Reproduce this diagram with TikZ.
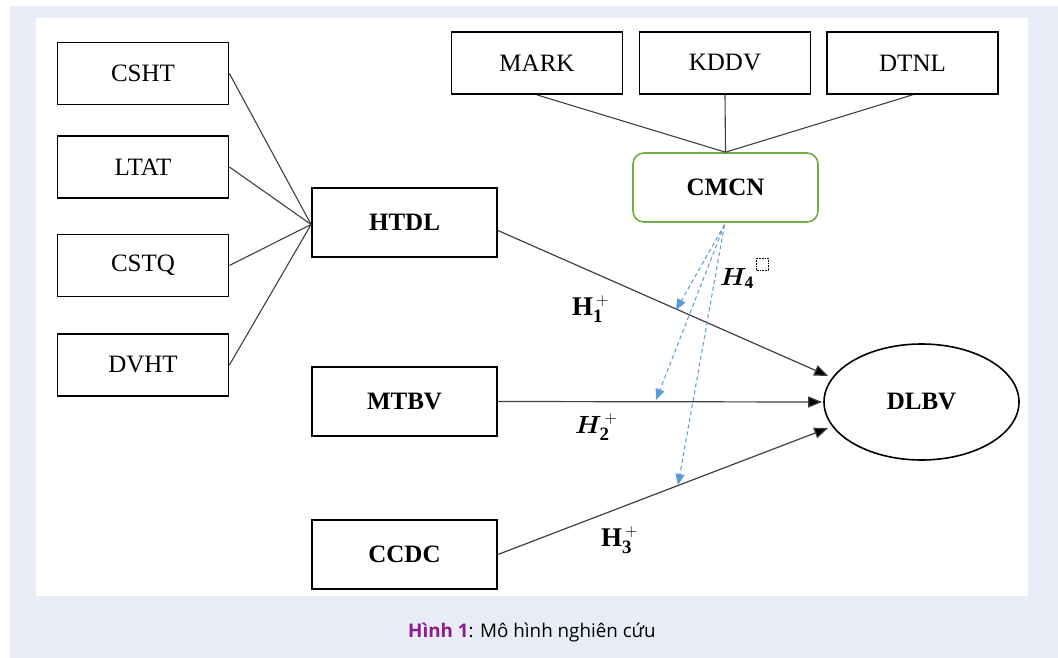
\documentclass[tikz,border=0pt]{standalone}
\usepackage{amsmath}
\usepackage{bm}
\usepackage{fontspec}
\setmainfont{Liberation Serif}
\newfontfamily\capfont{Open Sans}
\usetikzlibrary{arrows.meta,calc,shapes.geometric}
\definecolor{bgblue}{HTML}{E8ECF6}
\definecolor{dashblue}{HTML}{5B9BD5}
\definecolor{cmgreen}{HTML}{70AD47}
\definecolor{capviolet}{HTML}{8E1B8E}
\definecolor{linegray}{HTML}{404040}
\begin{document}
\begin{tikzpicture}[x=1pt,y=-1pt,
  smallbox/.style={draw=black, line width=1.8pt, minimum width=171pt, minimum height=62pt, inner sep=0pt, font=\fontsize{25}{30}\selectfont},
  midbox/.style={draw=black, line width=1.8pt, minimum width=185pt, minimum height=69pt, inner sep=0pt, font=\fontsize{25}{30}\selectfont\bfseries},
  link/.style={draw=linegray, line width=1.1pt},
  effect/.style={draw=linegray, line width=1.2pt, -{Triangle[length=14pt,width=11pt,fill=black]}},
  moder/.style={draw=dashblue, line width=1pt, dash pattern=on 4pt off 3pt, -{Triangle[length=11pt,width=9pt,fill=dashblue]}},
  hlabel/.style={anchor=base west, inner sep=0pt, font=\fontsize{27}{30}\selectfont}
]
\useasboundingbox (0,0) rectangle (1058,658);
\fill[white] (0,0) rectangle (1058,658);
\fill[bgblue] (10,6) rectangle (1058,658);
\fill[white] (36,18) rectangle (1028,596);

% left boxes
\node[smallbox] (CSHT) at (143,73.5) {CSHT};
\node[smallbox] (LTAT) at (143,167) {LTAT};
\node[smallbox] (CSTQ) at (143,265.5) {CSTQ};
\node[smallbox] (DVHT) at (143,365) {DVHT};

% middle boxes
\node[midbox] (HTDL) at (404.5,222.5) {HTDL};
\node[midbox] (MTBV) at (404.5,401.5) {MTBV};
\node[midbox] (CCDC) at (404.5,554.5) {CCDC};

% top boxes
\node[smallbox] (MARK) at (537,63) {MARK};
\node[smallbox] (KDDV) at (725,63) {KDDV};
\node[smallbox] (DTNL) at (912.5,63) {DTNL};

% moderator
\node[draw=cmgreen, line width=1.6pt, rounded corners=11pt, minimum width=185pt, minimum height=69pt, inner sep=0pt, font=\fontsize{25}{30}\selectfont\bfseries] (CMCN) at (725.5,187.5) {CMCN};

% outcome
\node[ellipse, draw=black, line width=1.6pt, minimum width=195pt, minimum height=116pt, inner sep=0pt, font=\fontsize{25}{30}\selectfont\bfseries] (DLBV) at (921.5,402) {DLBV};

% connectors left -> HTDL
\coordinate (hin) at ($(HTDL.west)+(0,2)$);
\draw[link] (CSHT.east) -- (hin);
\draw[link] (LTAT.east) -- (hin);
\draw[link] (CSTQ.east) -- (hin);
\draw[link] (DVHT.east) -- (hin);

% top -> CMCN
\draw[link] (MARK.south) -- (CMCN.north);
\draw[link] (KDDV.south) -- (CMCN.north);
\draw[link] (DTNL.south) -- (CMCN.north);

% effects
\coordinate (t1) at ($(DLBV.west)+(5,-26)$);
\coordinate (t2) at ($(DLBV.west)+(-1,0)$);
\coordinate (t3) at ($(DLBV.west)+(5,26)$);
\draw[effect] ($(HTDL.east)+(0,8)$) -- (t1);
\draw[effect] (MTBV.east) -- (t2);
\draw[effect] (CCDC.east) -- (t3);

% moderation arrows
\coordinate (m0) at ($(CMCN.south)+(-1,2)$);
\coordinate (m1) at (676,310);
\coordinate (m2) at (656,400);
\coordinate (m3) at (678,485);
\draw[moder] (m0) -- (m1);
\draw[moder] (m0) -- (m2);
\draw[moder] (m0) -- (m3);

% labels
\node[hlabel] (H1) at (572,315) {$\mathbf{H}_{\mathbf{1}}^{\,+}$};
\node[hlabel] (H2) at (575,433) {$\bm{H}_{\mathbf{2}}^{\,+}$};
\node[hlabel] (H3) at (601,546) {$\mathbf{H}_{\mathbf{3}}^{\,+}$};
\node[hlabel, font=\fontsize{25}{28}\selectfont] (H4) at (720,285) {$\bm{H}_{\mathbf{4}}$};
\draw[densely dotted, line width=0.6pt] (756,258) rectangle (768,270);

% caption
\node[inner sep=0pt, font=\capfont\fontsize{18.8}{22}\selectfont] (cap) at (532,633) {\textcolor{capviolet}{\bfseries Hình 1}: Mô hình nghiên cứu};
\end{tikzpicture}
\end{document}
